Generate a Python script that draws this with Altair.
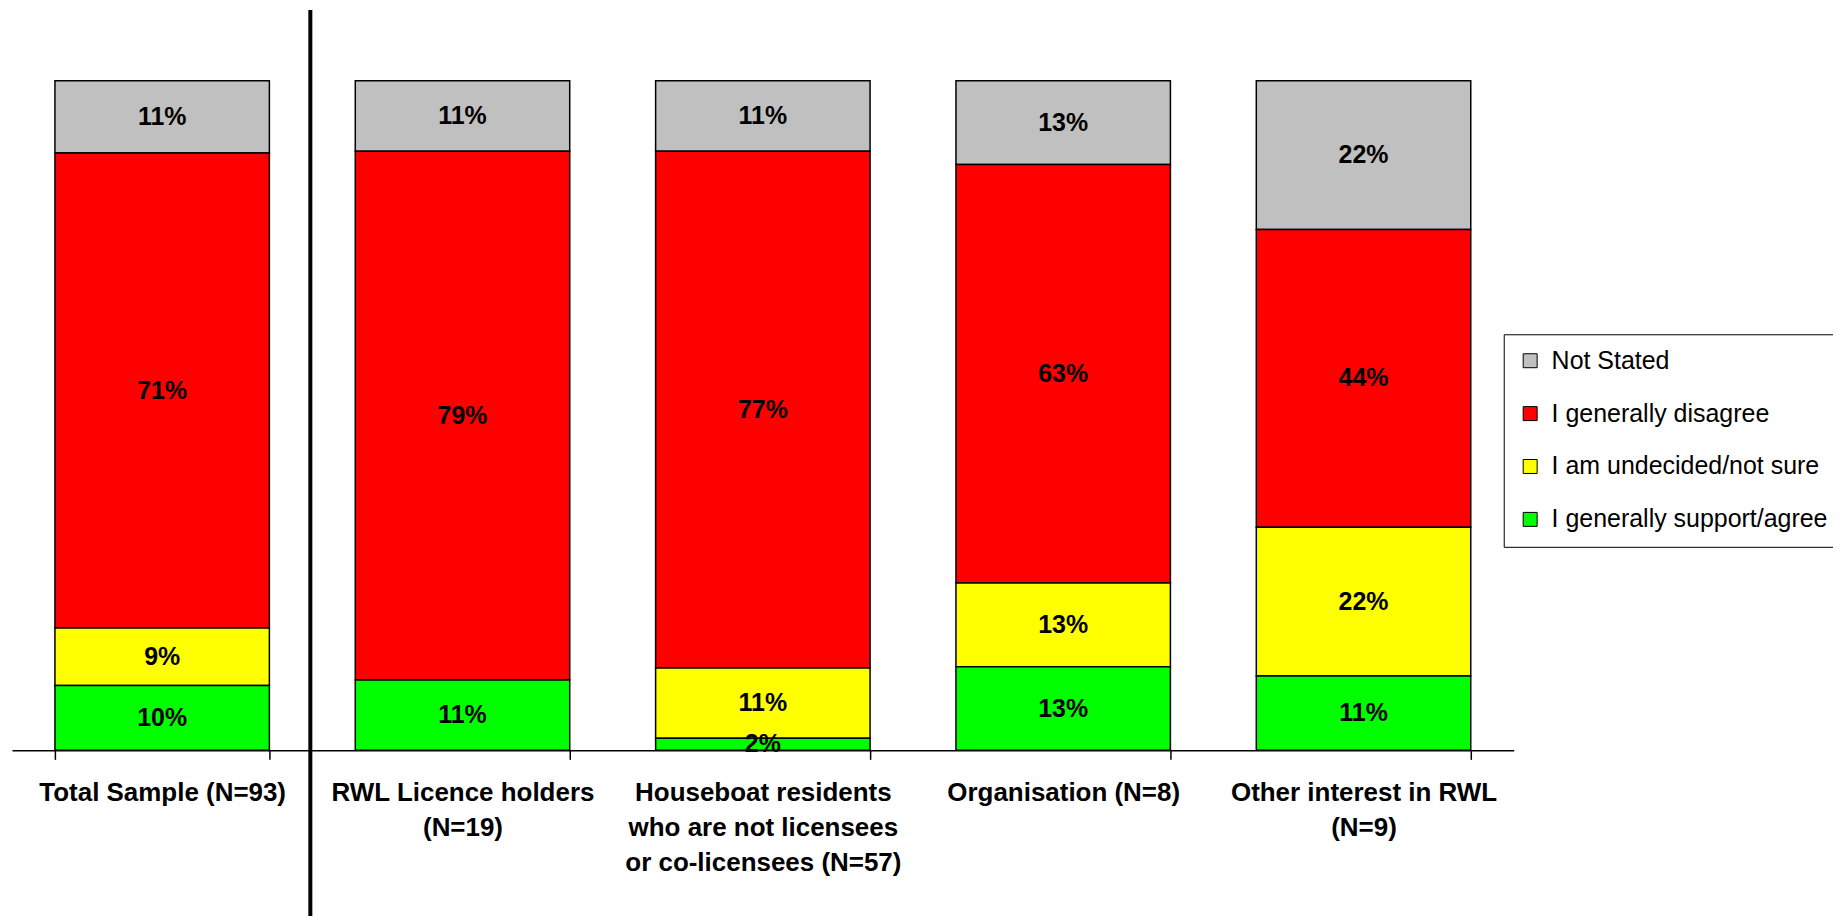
import altair as alt
import pandas as pd

categories = [
    "Total Sample (N=93)",
    "RWL Licence holders|(N=19)",
    "Houseboat residents|who are not licensees|or co-licensees (N=57)",
    "Organisation (N=8)",
    "Other interest in RWL|(N=9)",
]
responses = ["Not Stated", "I generally disagree", "I am undecided/not sure", "I generally support/agree"]
colors = ["#C0C0C0", "#FF0000", "#FFFF00", "#00FF00"]
stack_order = [3, 2, 1, 0]

not_stated = [10.8, 10.5, 10.5, 12.5, 22.2]
disagree = [71.0, 78.9, 77.2, 62.5, 44.4]
undecided = [8.6, 0.0, 10.5, 12.5, 22.2]
support = [9.7, 10.5, 1.8, 12.5, 11.1]

series = [not_stated, disagree, undecided, support]
rows = []
for r, resp in enumerate(responses):
    for c, cat in enumerate(categories):
        rows.append({"cat": cat, "resp": resp, "ord": stack_order[r], "value": series[r][c]})
df = pd.DataFrame(rows)

FONT = "Liberation Sans"

base = alt.Chart(df).transform_filter("datum.value > 0").transform_stack(
    stack="value", groupby=["cat"], as_=["y0", "y1"], offset="normalize",
    sort=[alt.SortField("ord", order="ascending")],
).transform_calculate(ymid="(datum.y0 + datum.y1) / 2")

x_enc = alt.X(
    "cat:N", sort=categories,
    scale=alt.Scale(paddingInner=0.286, paddingOuter=0.143),
    axis=alt.Axis(
        title=None, labelExpr="split(datum.label, '|')", labelAngle=0, grid=False,
        labelFont=FONT, labelFontSize=26, labelFontWeight="bold", labelColor="black",
        labelPadding=20, labelLineHeight=35, labelBaseline="top", labelLimit=500,
        tickBand="extent", tickSize=9, tickColor="black", tickWidth=1.5,
        domainColor="black", domainWidth=1.5,
    ),
)

bars = base.mark_bar(stroke="black", strokeWidth=1.5).encode(
    x=x_enc,
    y=alt.Y("y0:Q", scale=alt.Scale(domain=[0, 1]), axis=None),
    y2="y1:Q",
    color=alt.Color(
        "resp:N",
        scale=alt.Scale(domain=responses, range=colors),
        legend=alt.Legend(
            title=None, orient="none", legendX=1495, legendY=254,
            symbolType="square", symbolSize=196, symbolStrokeColor="black",
            symbolStrokeWidth=1, symbolOpacity=1,
            labelFont=FONT, labelFontSize=25, labelColor="black", labelLimit=500,
            labelOffset=9, rowPadding=27, padding=14,
            strokeColor="black", fillColor="white",
        ),
    ),
)

labels = base.transform_calculate(lbl="format(datum.value, '.0f') + '%'").mark_text(
    font=FONT, fontSize=25, fontWeight="bold", color="black"
).encode(
    x=alt.X("cat:N", sort=categories),
    y=alt.Y("ymid:Q", scale=alt.Scale(domain=[0, 1])),
    text="lbl:N",
)

divider = alt.Chart(pd.DataFrame({"d": [0]})).mark_rule(color="black", strokeWidth=4).encode(
    x=alt.value(299), y=alt.value(-71), y2=alt.value(837)
)

chart = alt.layer(bars, labels, divider).properties(
    width=1505, height=671,
    background="white",
    autosize=alt.AutoSizeParams(type="none"),
    padding={"left": 4, "top": 72, "right": 320, "bottom": 166},
).configure_view(strokeWidth=0)

chart.save("out.html", embed_options={"renderer": "svg", "actions": False})
